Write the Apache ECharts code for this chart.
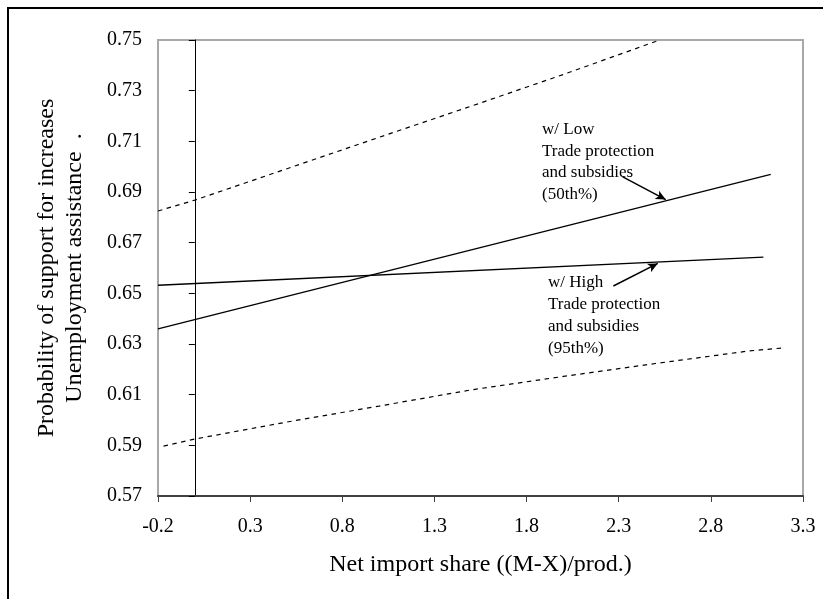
<!DOCTYPE html>
<html>
<head>
<meta charset="utf-8">
<script src="https://cdn.jsdelivr.net/npm/echarts@6/dist/echarts.min.js"></script>
<style>
  html, body { margin: 0; padding: 0; background: #fff; }
  #chart { width: 823px; height: 599px; }
</style>
</head>
<body>
<div id="chart"></div>
<script>
// tick labels
const xTickLabels = ["-0.2", "0.3", "0.8", "1.3", "1.8", "2.3", "2.8", "3.3"];
const yTickLabels = ["0.57", "0.59", "0.61", "0.63", "0.65", "0.67", "0.69", "0.71", "0.73", "0.75"];

// w/ Low trade protection and subsidies (50th%)
const lowX = [-0.2, 3.125];
const lowY = [0.636, 0.697];

// w/ High trade protection and subsidies (95th%)
const highX = [-0.2, 3.085];
const highY = [0.6532, 0.6643];

// upper and lower bounds (dashed)
const upperX = [-0.2, 0.0, 0.5, 1.0, 1.5, 2.0, 2.5, 2.52];
const upperY = [0.6825, 0.6868, 0.6992, 0.7116, 0.7239, 0.7364, 0.7494, 0.75];
const lowerX = [-0.17, 0.0, 0.5, 1.0, 1.5, 2.0, 2.5, 3.0, 3.2];
const lowerY = [0.5897, 0.5925, 0.5992, 0.6055, 0.6119, 0.6172, 0.6223, 0.6272, 0.6285];

// annotation arrows: [from, to]
const lowArrow = [[2.322, 0.696], [2.555, 0.687]];
const highArrow = [[2.271, 0.6529], [2.512, 0.6618]];

const pairs = (xs, ys) => xs.map((x, i) => [x, ys[i]]);

const FONT = "Liberation Serif";
const xMin = +xTickLabels[0], xMax = +xTickLabels[xTickLabels.length - 1];
const yMin = +yTickLabels[0], yMax = +yTickLabels[yTickLabels.length - 1];
const xStep = +xTickLabels[1] - xMin;
const yStep = +yTickLabels[1] - yMin;

const pickLabel = (labels) => (v) => {
  let best = labels[0];
  labels.forEach((l) => { if (Math.abs(+l - v) < Math.abs(+best - v)) best = l; });
  return best;
};

const chart = echarts.init(document.getElementById("chart"));

const arrowLine = (a) => ({
  silent: true,
  symbol: ["none", "arrow"],
  symbolSize: [7, 10],
  label: { show: false },
  lineStyle: { color: "#000", width: 1.5, type: "solid" },
  data: [[{ coord: a[0] }, { coord: a[1] }]],
});

const option = {
  animation: false,
  textStyle: { fontFamily: FONT, color: "#000" },
  grid: {
    left: 158, top: 40, right: 20, bottom: 103,
    show: true, borderColor: "#a8a8a8", borderWidth: 2,
  },
  xAxis: {
    type: "value",
    min: xMin, max: xMax, interval: xStep,
    name: "Net import share ((M-X)/prod.)",
    nameLocation: "middle",
    nameGap: 57,
    nameTextStyle: { fontSize: 24, fontFamily: FONT, color: "#000" },
    axisLine: { onZero: false, lineStyle: { color: "#404040", width: 2 } },
    axisTick: { show: true, length: 6, lineStyle: { color: "#404040", width: 1 } },
    axisLabel: { fontSize: 20, fontFamily: FONT, color: "#000", margin: 21, formatter: pickLabel(xTickLabels) },
    splitLine: { show: false },
  },
  yAxis: [
    {
      type: "value",
      min: yMin, max: yMax, interval: yStep,
      axisLine: { show: true, onZero: true, lineStyle: { color: "#000", width: 1 } },
      axisTick: { show: true, length: 6, lineStyle: { color: "#000", width: 1 } },
      axisLabel: { show: false },
      splitLine: { show: false },
    },
    {
      type: "value",
      position: "left",
      min: yMin, max: yMax, interval: yStep,
      name: "Probability of support for increases\nUnemployment assistance  .",
      nameLocation: "middle",
      nameRotate: 90,
      nameGap: 69,
      nameTextStyle: { fontSize: 24, lineHeight: 28, fontFamily: FONT, color: "#000" },
      axisLine: { show: false },
      axisTick: { show: false },
      axisLabel: { fontSize: 20, fontFamily: FONT, color: "#000", margin: 16, formatter: pickLabel(yTickLabels) },
      splitLine: { show: false },
    },
  ],
  series: [
    {
      name: "Low",
      type: "line",
      data: pairs(lowX, lowY),
      showSymbol: false,
      lineStyle: { color: "#000", width: 1.3 },
      markLine: arrowLine(lowArrow),
    },
    {
      name: "High",
      type: "line",
      data: pairs(highX, highY),
      showSymbol: false,
      lineStyle: { color: "#000", width: 1.3 },
      markLine: arrowLine(highArrow),
    },
    {
      name: "Upper",
      type: "line",
      data: pairs(upperX, upperY),
      showSymbol: false,
      lineStyle: { color: "#000", width: 1.2, type: [4.5, 4.5] },
    },
    {
      name: "Lower",
      type: "line",
      data: pairs(lowerX, lowerY),
      showSymbol: false,
      lineStyle: { color: "#000", width: 1.2, type: [4.5, 4.5] },
    },
  ],
  graphic: [
    {
      type: "rect",
      shape: { x: 8, y: 8, width: 900, height: 700 },
      style: { fill: "none", stroke: "#000", lineWidth: 2 },
      silent: true,
    },
    {
      type: "text",
      left: 542, top: 119,
      style: {
        text: "w/ Low\nTrade protection\nand subsidies\n(50th%)",
        font: "17px " + FONT, lineHeight: 21.5, fill: "#000",
      },
    },
    {
      type: "text",
      left: 548, top: 272,
      style: {
        text: "w/ High\nTrade protection\nand subsidies\n(95th%)",
        font: "17px " + FONT, lineHeight: 22, fill: "#000",
      },
    },
  ],
};

chart.setOption(option);
</script>
</body>
</html>
